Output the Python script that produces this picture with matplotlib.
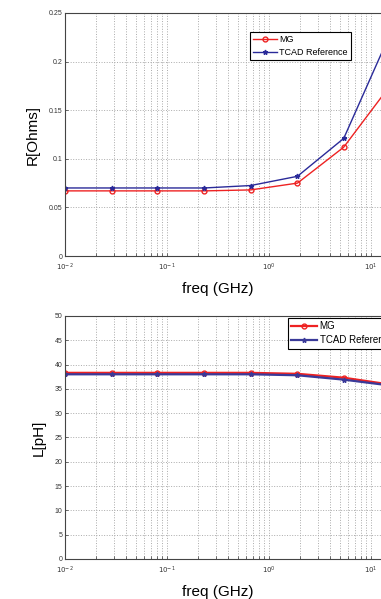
import numpy as np
import matplotlib.pyplot as plt

plt.rcParams['font.family'] = ['Liberation Sans', 'DejaVu Sans']

# frekvenspunkter (GHz), lest av bildet
freq = [0.01, 0.0287, 0.08, 0.232, 0.66, 1.9, 5.4, 15.3]

# motstand R [Ohms]
r_mg = [0.067, 0.067, 0.067, 0.067, 0.068, 0.075, 0.112, 0.175]
r_tcad = [0.070, 0.070, 0.070, 0.070, 0.0725, 0.082, 0.121, 0.228]

# induktans L [pH]
l_mg = [38.3, 38.3, 38.3, 38.3, 38.3, 38.1, 37.3, 35.9]
l_tcad = [38.0, 38.0, 38.0, 38.0, 38.0, 37.8, 36.9, 35.7]

r_ticks = [0, 0.05, 0.1, 0.15, 0.2, 0.25]
r_ticklabels = ['0', '0.05', '0.1', '0.15', '0.2', '0.25']
l_ticks = [0, 5, 10, 15, 20, 25, 30, 35, 40, 45, 50]

fig = plt.figure(figsize=(3.81, 5.99), dpi=100)

# aksene går utenfor høyre kant, som i originalen
ax1 = fig.add_axes([0.1706, 0.5726, 1.071, 0.4057])
ax2 = fig.add_axes([0.1706, 0.0668, 1.071, 0.4057])


def style(ax, ylabel, yticks, ylabels, ylim):
    ax.set_xscale('log')
    ax.set_xlim(0.01, 100)
    ax.set_ylim(*ylim)
    ax.set_yticks(yticks)
    ax.set_yticklabels(ylabels)
    ax.set_xticks([0.01, 0.1, 1, 10])
    ax.set_xticklabels(['$10^{-2}$', '$10^{-1}$', '$10^{0}$', '$10^{1}$'])
    ax.tick_params(which='both', direction='in', labelsize=5, length=2, width=0.5,
                   colors='#333333')
    ax.tick_params(axis='x', pad=4)
    ax.tick_params(axis='y', pad=2)
    ax.grid(True, which='major', linestyle=':', color='#aaaaaa', linewidth=0.7)
    ax.grid(True, which='minor', axis='x', linestyle=':', color='#aaaaaa', linewidth=0.7)
    for s in ax.spines.values():
        s.set_linewidth(0.8)
        s.set_color('#444444')
    ax.set_xlabel('freq (GHz)', fontsize=11)
    ax.xaxis.set_label_coords(0.375, -0.105)
    ax.set_ylabel(ylabel, fontsize=11, labelpad=6)


ax1.plot(freq, r_mg, color='#ee2222', marker='o', markersize=3.5,
         markerfacecolor='none', linewidth=1.0, label='MG')
ax1.plot(freq, r_tcad, color='#2a2a99', marker='*', markersize=3.5,
         linewidth=1.0, label='TCAD Reference')
style(ax1, 'R[Ohms]', r_ticks, r_ticklabels, (0, 0.25))
leg1 = ax1.legend(loc='upper left', bbox_to_anchor=(250 / 381, 1 - 32 / 599),
                  bbox_transform=fig.transFigure, fontsize=6.5, fancybox=False,
                  edgecolor='black', framealpha=1, handlelength=2.6,
                  handletextpad=0.3, borderpad=0.35, labelspacing=0.4,
                  borderaxespad=0)
leg1.get_frame().set_linewidth(0.8)

ax2.plot(freq, l_mg, color='#ee2222', marker='o', markersize=3.5,
         markerfacecolor='none', linewidth=1.6, label='MG')
ax2.plot(freq, l_tcad, color='#3a3a99', marker='*', markersize=3.5,
         linewidth=1.6, label='TCAD Reference')
style(ax2, 'L[pH]', l_ticks, [str(t) for t in l_ticks], (0, 50))
leg2 = ax2.legend(loc='upper left', bbox_to_anchor=(288 / 381, 1 - 318 / 599),
                  bbox_transform=fig.transFigure, fontsize=7, fancybox=False,
                  edgecolor='black', framealpha=1, handlelength=2.6,
                  handletextpad=0.3, borderpad=0.35, labelspacing=0.4,
                  borderaxespad=0)
leg2.get_frame().set_linewidth(0.8)

fig.savefig('out.png', dpi=100)
